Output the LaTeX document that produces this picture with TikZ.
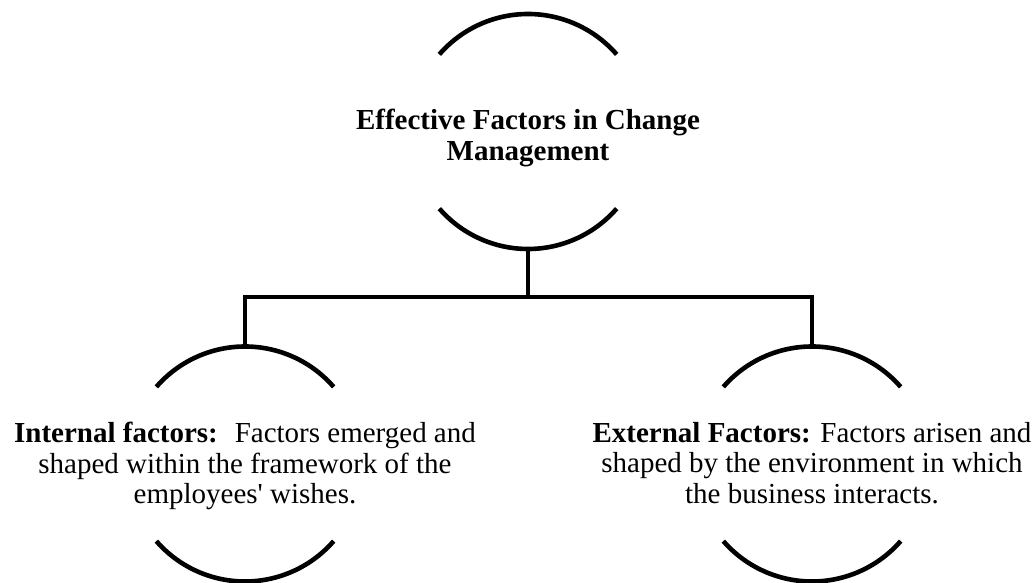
\documentclass[tikz,border=0pt]{standalone}
\usepackage{fontspec}
\setmainfont{Liberation Serif}
\usetikzlibrary{calc}
\begin{document}
\begin{tikzpicture}[x=1pt,y=1pt,
  arcline/.style={line width=4.6pt},
  conn/.style={line width=4.6pt, line join=miter},
  lbl/.style={align=center, inner sep=0pt, font=\fontsize{29}{30.5}\selectfont}]
\useasboundingbox (0,0) rectangle (1035,583);
% circle centres
\coordinate (ct) at (528,451.5);
\coordinate (cl) at (245,119);
\coordinate (cr) at (812,119);
% arcs
\foreach \c in {ct,cl,cr}{
  \draw[arcline] ($(\c)+(139:117.5)$) arc[start angle=139,end angle=41,radius=117.5];
  \draw[arcline] ($(\c)+(221:117.5)$) arc[start angle=221,end angle=319,radius=117.5];
}
% text
\node[lbl] (title) at (528,445) {\textbf{Effective Factors in Change}\\\textbf{Management}};
\node[lbl] (internal) at (245,117) {\textbf{Internal factors:}~ Factors emerged and\\shaped within the framework of the\\employees\textquotesingle{} wishes.};
\node[lbl] (external) at (812,120) {\textbf{External Factors:} Factors arisen and\\shaped by the environment in which\\the business interacts.};
% connectors
\coordinate (ctb) at ($(ct)+(0,-117.5)$);
\coordinate (clt) at ($(cl)+(0,117.5)$);
\coordinate (crt) at ($(cr)+(0,117.5)$);
\coordinate (bus) at (528,286);
\draw[conn] (ctb) -- (bus);
\draw[conn] (clt) -- (clt |- bus) -- (crt |- bus) -- (crt);
\end{tikzpicture}
\end{document}
